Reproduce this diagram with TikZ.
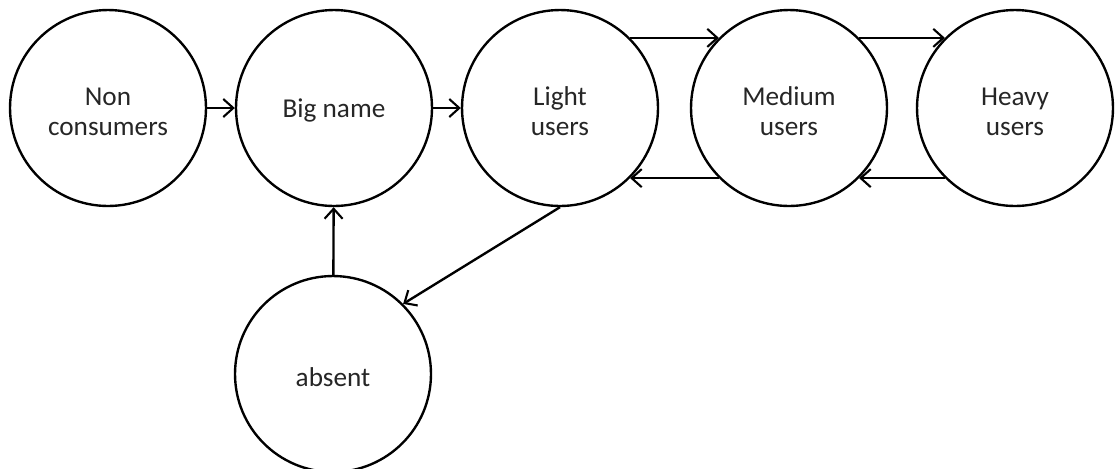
\documentclass[tikz,border=0pt]{standalone}
\usepackage{fontspec}
\setmainfont{Carlito}
\usetikzlibrary{arrows.meta}
\newcommand{\nodestrut}{\rule{0pt}{14pt}}

\begin{document}
\begin{tikzpicture}[
    x=0.02cm, y=-0.02cm,
    state/.style={draw, circle, line width=1.35pt, minimum size=3.92cm, inner sep=0pt, align=center, text=black!85, font=\fontsize{15.5}{17.3}\selectfont},
    arr/.style={-{Straight Barb[length=2mm, width=3.6mm, line width=1.2pt]}, line width=1.35pt}
]
\useasboundingbox (0,0) rectangle (1115,468);
\node[state] (non) at (108,108) {\nodestrut Non\\consumers};
\node[state] (big) at (334,108) {\nodestrut Big name};
\node[state] (light) at (560,108) {\nodestrut Light\\users};
\node[state] (medium) at (789,108) {\nodestrut Medium\\users};
\node[state] (heavy) at (1015,108) {\nodestrut Heavy\\users};
\node[state] (absent) at (333,374) {\nodestrut absent};
\draw[arr] (non) -- (big);
\draw[arr] (big) -- (light);
\draw[arr] (light.45) -- (medium.135);
\draw[arr] (medium.45) -- (heavy.135);
\draw[arr] (medium.225) -- (light.-45);
\draw[arr] (heavy.225) -- (medium.-45);
\draw[arr] (light.south) -- (absent.45);
\draw[arr] (absent) -- (big);
\end{tikzpicture}
\end{document}
